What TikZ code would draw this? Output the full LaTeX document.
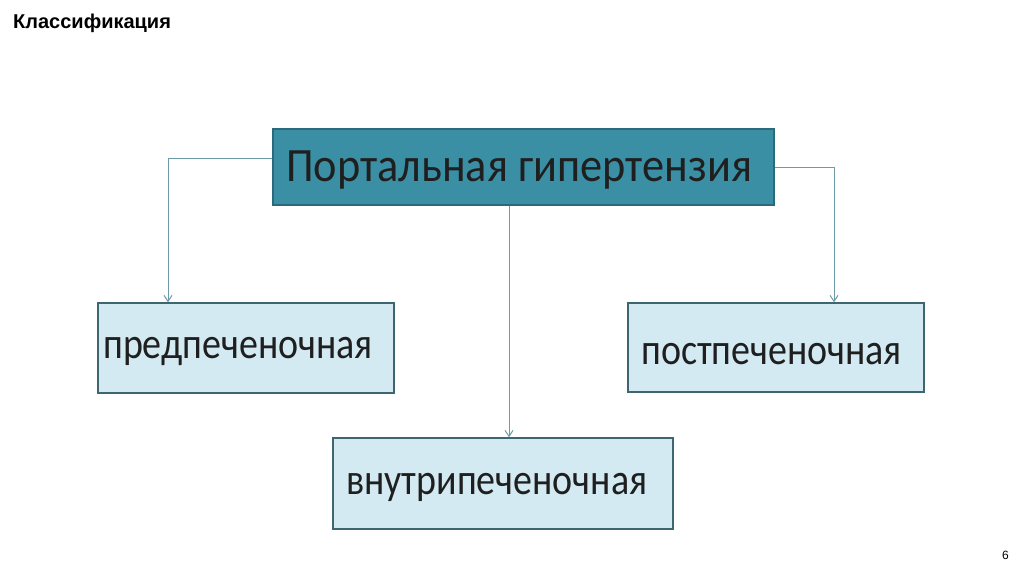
\documentclass[tikz,border=0pt]{standalone}
\usepackage{fontspec}
\setmainfont{Carlito}
\newfontfamily\arialfont{Liberation Sans}
\usetikzlibrary{arrows.meta}
\definecolor{mainfill}{HTML}{3A8FA5}
\definecolor{mainborder}{HTML}{2B6A7A}
\definecolor{subfill}{HTML}{D3EAF2}
\definecolor{subborder}{HTML}{3D6670}
\definecolor{linkcol}{HTML}{6C9AA6}
\newcommand{\maintext}[1]{\scalebox{1}[1.08]{\fontsize{44.3}{46}\selectfont #1}}
\newcommand{\subtext}[1]{\scalebox{1}[1.15]{\fontsize{38}{40}\selectfont #1}}
\begin{document}
\begin{tikzpicture}[x=1pt,y=-1pt,
  mainbox/.style={draw=mainborder,line width=1.5pt,fill=mainfill,inner sep=0pt},
  subbox/.style={draw=subborder,line width=1.5pt,fill=subfill,inner sep=0pt},
  label/.style={anchor=base west,inner sep=0pt,text=black!88},
  link/.style={draw=linkcol,line width=1pt,-{Straight Barb[length=6pt,width=8pt]}}]
\useasboundingbox (0,0) rectangle (1024,574);
\fill[white] (0,0) rectangle (1024,574);
\node[anchor=base west,inner sep=0pt,font=\arialfont\bfseries\fontsize{20}{22}\selectfont] (title) at (13,28) {Классификация};
\node[anchor=base,inner sep=0pt,font=\arialfont\fontsize{12}{14}\selectfont] (page) at (1005.5,559) {6};
\node[mainbox,minimum width=501pt,minimum height=76pt] (main) at (523.5,167) {};
\node[label] (maint) at (286,181) {\maintext{Портальная гипертензия}};
\node[subbox,minimum width=296pt,minimum height=90pt] (pre) at (246,348) {};
\node[label] (pret) at (103,358) {\subtext{предпеченочная}};
\node[subbox,minimum width=296pt,minimum height=89pt] (post) at (776,347.5) {};
\node[label] (postt) at (641,364) {\subtext{постпеченочная}};
\node[subbox,minimum width=340pt,minimum height=91pt] (intra) at (503,483.5) {};
\node[label] (intrat) at (346,494) {\subtext{внутрипеченочная}};
\coordinate (lc) at (168,158);
\coordinate (rc) at (834,167);
\draw[link] (main.west |- lc) -- (lc) -- (lc |- pre.north);
\draw[link] (main.east |- rc) -- (rc) -- (rc |- post.north);
\draw[link] (main.south -| 509,0) -- (intra.north -| 509,0);
\end{tikzpicture}
\end{document}
